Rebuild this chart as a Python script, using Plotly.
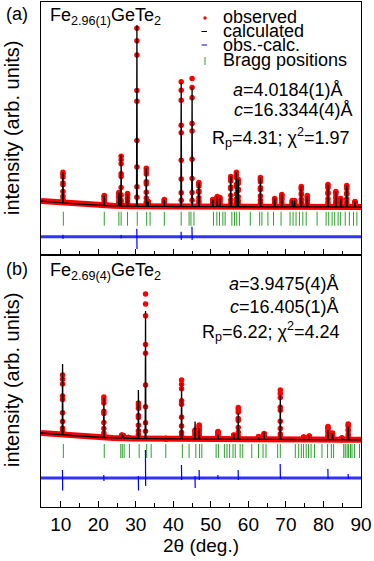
import numpy as np
import plotly.graph_objects as go
from plotly.subplots import make_subplots

# ---- data (2theta in deg, intensity in counts) ----
# panel (a): Fe2.96(1)GeTe2
bg_a_x = [4.75, 8, 13, 17, 20, 24, 29, 35, 40, 48, 54, 60, 66, 70, 78, 85, 90]
bg_a_y = [1350, 1250, 1100, 1000, 930, 880, 840, 820, 810, 800, 790, 785, 780, 775, 770, 760, 750]
peak_a_pos = [10.6, 21.6, 25.5, 26.1, 27.8, 30.3, 32.8, 33.3, 37.6, 42.1, 45.0, 46.8, 50.5, 51.7,
              52.4, 55.3, 56.8, 57.3, 63.2, 67.0, 68.9, 71.7, 72.3, 74.1, 75.7, 81.2, 83.3, 84.6,
              86.2, 88.4]
peak_a_obs = [4200, 1900, 2200, 5800, 2100, 18500, 4600, 1300, 1500, 13200, 13500, 3200, 1500, 1800,
              1700, 3800, 4200, 3500, 3700, 1600, 2000, 1400, 1400, 2800, 1900, 3000, 2300, 1600,
              2900, 1300]
peak_a_calc = [4200, 1900, 2200, 5900, 2100, 18800, 4600, 1300, 1500, 13100, 12700, 3200, 1500, 1800,
               1700, 3800, 4200, 3500, 3700, 1600, 2000, 1400, 1400, 2800, 1900, 3000, 2300, 1600,
               2900, 1300]
bragg_a = [10.7, 21.6, 25.5, 26.1, 27.8, 30.4, 32.9, 33.8, 37.6, 42.1, 44.2, 44.7, 45.5, 50.7, 51.6,
           52.3, 53.2, 53.8, 55.6, 56.3, 56.9, 57.6, 60.5, 63.0, 63.6, 65.2, 66.7, 68.7, 71.1, 71.9,
           72.7, 73.6, 74.5, 75.4, 78.3, 80.7, 81.4, 82.3, 83.0, 83.9, 84.5, 85.8, 86.9, 88.0, 88.9]
diff_a_pos = [10.6, 26.1, 30.3, 42.1, 45.0]
diff_a_up = [200, 200, 800, 500, 1000]
diff_a_dn = [200, 150, 1200, 300, 300]

# panel (b): Fe2.69(4)GeTe2
bg_b_x = [4.75, 8, 13, 17, 20, 24, 29, 35, 40, 48, 54, 60, 66, 70, 78, 85, 90]
bg_b_y = [1500, 1400, 1250, 1150, 1080, 1010, 960, 930, 910, 890, 880, 870, 860, 850, 840, 830, 820]
peak_b_pos = [10.5, 21.5, 26.3, 26.7, 28.0, 30.7, 32.6, 38.0, 42.2, 45.8, 46.9, 51.9, 56.1, 57.3,
              62.7, 64.2, 68.5, 74.7, 76.2, 81.2, 82.4, 84.9, 86.6]
peak_b_obs = [7300, 5100, 1300, 1250, 1050, 4500, 15400, 950, 6800, 1800, 2300, 1650, 1300, 4050,
              1150, 1450, 5800, 1100, 1200, 2150, 1500, 1000, 2400]
peak_b_calc = [8400, 5050, 1350, 1250, 1050, 5800, 13700, 1000, 6500, 2650, 2000, 1350, 1400, 3500,
               1100, 1550, 5300, 1050, 1150, 1800, 1450, 1000, 2150]
bragg_b = [10.7, 21.6, 26.0, 26.4, 26.9, 28.3, 30.9, 32.9, 34.1, 38.0, 42.4, 44.2, 46.0, 47.0, 47.6,
           51.4, 52.0, 53.6, 54.3, 55.0, 55.9, 56.5, 57.8, 58.5, 60.9, 62.7, 63.9, 64.7, 67.8, 68.5,
           72.5, 73.4, 74.1, 74.7, 75.4, 76.0, 76.7, 77.6, 79.6, 81.1, 82.1, 82.7, 85.4, 85.8, 86.3,
           86.7, 87.2, 87.6, 88.3, 89.6]
diff_b_pos = [10.5, 21.5, 30.7, 32.6, 42.2, 45.8, 46.9, 51.9, 57.3, 68.5, 81.2, 86.6]
diff_b_up = [800, 300, 200, 2800, 1300, 200, 800, 300, 800, 1400, 900, 400]
diff_b_dn = [1250, 300, 1250, 800, 200, 1000, 200, 100, 200, 100, 100, 100]

# relative heights at which the observed points sit on each peak flank
dot_levels = [1.0, 0.93, 0.85, 0.65, 0.59, 0.37, 0.22, 0.11, 0.05]

RED, BLUE, GREEN = "#ff0000", "#0000ff", "#2ca02c"
FONT = "Liberation Sans, Arial, sans-serif"
X0, X1 = 4.75, 90


def panel(fig, row, bg_x, bg_y, pos, obs, calc, bragg, dpos, dup, ddn, tick_y, diff_y):
    base = np.interp(pos, bg_x, bg_y)
    # observed: dense band along background + points on the peaks
    fig.add_trace(go.Scatter(x=bg_x, y=bg_y, mode="lines", line=dict(color=RED, width=6),
                             hoverinfo="skip", showlegend=False), row=row, col=1)
    ox, oy = [], []
    for p, b, h in zip(pos, base, obs):
        for lv in dot_levels:
            ox.append(p)
            oy.append(b + lv * (h - b))
    fig.add_trace(go.Scatter(x=ox, y=oy, mode="markers", marker=dict(color=RED, size=5.5),
                             name="observed", showlegend=False), row=row, col=1)
    # calculated
    pts = list(zip(bg_x, bg_y))
    for p, b, h in zip(pos, base, calc):
        pts += [(p - 0.1, b), (p, h), (p + 0.1, b)]
    pts.sort(key=lambda t: t[0])
    fig.add_trace(go.Scatter(x=[t[0] for t in pts], y=[t[1] for t in pts], mode="lines",
                             line=dict(color="black", width=1.3), name="calculated",
                             showlegend=False), row=row, col=1)
    # Bragg positions
    fig.add_trace(go.Scatter(x=bragg, y=[tick_y] * len(bragg), mode="markers",
                             marker=dict(symbol="line-ns", size=10, line=dict(color=GREEN, width=1)),
                             name="Bragg positions", showlegend=False), row=row, col=1)
    # obs - calc: noisy band + thin spikes at the peaks
    fig.add_trace(go.Scatter(x=[X0, X1], y=[diff_y, diff_y], mode="lines",
                             line=dict(color=BLUE, width=3), opacity=0.8,
                             hoverinfo="skip", showlegend=False), row=row, col=1)
    dx, dy = [], []
    for p, u, d in zip(dpos, dup, ddn):
        dx += [p - 0.03, p, p + 0.03, None]
        dy += [diff_y + u, diff_y, diff_y - d, None]
    fig.add_trace(go.Scatter(x=dx, y=dy, mode="lines", line=dict(color=BLUE, width=1.2),
                             name="obs.-calc.", showlegend=False), row=row, col=1)


fig = make_subplots(rows=2, cols=1, shared_xaxes=True, vertical_spacing=0)
panel(fig, 1, bg_a_x, bg_a_y, peak_a_pos, peak_a_obs, peak_a_calc, bragg_a,
      diff_a_pos, diff_a_up, diff_a_dn, tick_y=-400, diff_y=-2200)
panel(fig, 2, bg_b_x, bg_b_y, peak_b_pos, peak_b_obs, peak_b_calc, bragg_b,
      diff_b_pos, diff_b_up, diff_b_dn, tick_y=-300, diff_y=-3000)

# pixel helpers for text placement (plot area 41..361 x 2..507)
def px(x):
    return (x - 41) / 320


def py(y):
    return (507 - y) / 505


def text(s, x, y, xa="left", size=18, angle=0):
    fig.add_annotation(text=s, x=px(x), y=py(y), xref="paper", yref="paper", xanchor=xa,
                       yanchor="middle", showarrow=False, textangle=angle,
                       font=dict(size=size, color="black", family=FONT))


text("(a)", 17, 14, xa="center")
text("(b)", 17, 269, xa="center")
text("Fe<sub>2.96(1)</sub>GeTe<sub>2</sub>", 48, 16)
text("Fe<sub>2.69(4)</sub>GeTe<sub>2</sub>", 48, 271)
text("intensity (arb. units)", 12, 128, xa="center", size=20, angle=-90)
text("intensity (arb. units)", 12, 380, xa="center", size=20, angle=-90)

# legend
legend_rows = [("observed", 17), ("calculated", 31), ("obs.-calc.", 45), ("Bragg positions", 60)]
for s, y in legend_rows:
    text(s, 221, y)
fig.add_shape(type="circle", xref="paper", yref="paper", x0=px(203.3), x1=px(206.7),
              y0=py(19.7), y1=py(16.3), fillcolor=RED, line=dict(width=0))
fig.add_shape(type="line", xref="paper", yref="paper", x0=px(201.5), x1=px(207),
              y0=py(31.5), y1=py(31.5), line=dict(color="black", width=1))
fig.add_shape(type="line", xref="paper", yref="paper", x0=px(201.5), x1=px(207),
              y0=py(45), y1=py(45), line=dict(color=BLUE, width=1))
fig.add_shape(type="line", xref="paper", yref="paper", x0=px(205), x1=px(205),
              y0=py(57), y1=py(65), line=dict(color=GREEN, width=1))

# lattice parameters / agreement factors
text("<i>a</i>=4.0184(1)Å", 231, 90)
text("<i>c</i>=16.3344(4)Å", 232, 110)
text("R<sub>p</sub>=4.31; χ<sup>2</sup>=1.97", 210, 137)
text("<i>a</i>=3.9475(4)Å", 341, 284, xa="right")
text("<i>c</i>=16.405(1)Å", 341, 307, xa="right")
text("R<sub>p</sub>=6.22; χ<sup>2</sup>=4.24", 342, 331, xa="right")

axis_common = dict(showline=True, linecolor="black", linewidth=1, mirror=True,
                   showgrid=False, zeroline=False)
fig.update_xaxes(range=[X0, X1], tick0=0, dtick=10, ticks="inside", ticklen=6, tickwidth=1,
                 tickcolor="black", minor=dict(dtick=5, ticks="inside", ticklen=4,
                                               tickcolor="black"),
                 tickfont=dict(size=19, family=FONT, color="black"), **axis_common)
fig.update_xaxes(title=dict(text="2θ (deg.)", font=dict(size=19, family=FONT, color="black"),
                            standoff=2), row=2, col=1)
fig.update_yaxes(showticklabels=False, ticks="", **axis_common)
fig.update_yaxes(range=[-3950, 21100], row=1, col=1)
fig.update_yaxes(range=[-5900, 19350], row=2, col=1)

fig.update_layout(width=374, height=561, margin=dict(l=41, r=13, t=2, b=54),
                  template="plotly_white", plot_bgcolor="white", paper_bgcolor="white",
                  showlegend=False, hovermode=False, font=dict(family=FONT, color="black"))

# the page's default body margin would shift the fixed-size figure
fig.write_html("out.html", config={"displayModeBar": False},
               post_script="document.body.style.margin='0';")
